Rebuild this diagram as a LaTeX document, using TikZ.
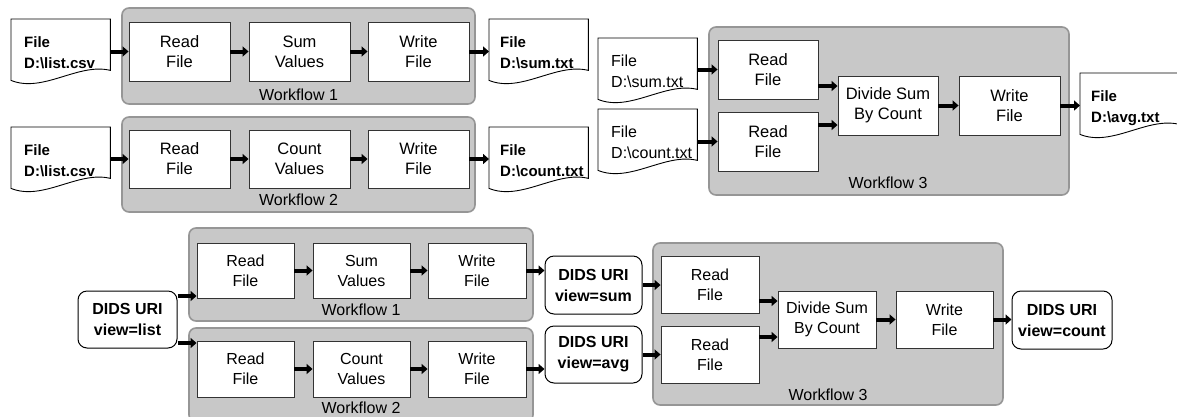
\documentclass[tikz,border=0pt]{standalone}
\usepackage{fontspec}
\setmainfont{Liberation Sans}
\usetikzlibrary{arrows.meta}
\definecolor{wfill}{RGB}{200,200,200}
\definecolor{wline}{RGB}{150,150,150}
\begin{document}
\begin{tikzpicture}[x=1pt,y=-1pt,
  wf/.style={draw=wline,fill=wfill,line width=1.6pt,rounded corners=7pt},
  wflabel/.style={inner sep=0pt,font=\fontsize{16}{19}\selectfont},
  proc/.style={draw=black!80,fill=white,line width=0.9pt,align=center,inner sep=0pt,font=\fontsize{16.5}{20}\selectfont},
  procb/.style={proc,font=\fontsize{16}{20}\selectfont},
  docbox/.style={inner sep=0pt,minimum width=99pt,minimum height=56pt,anchor=north west},
  doctext/.style={inner sep=0pt,anchor=north west,align=left,font=\fontsize{15}{21}\selectfont\bfseries},
  doctextr/.style={doctext,font=\fontsize{16}{21}\selectfont},
  docline/.style={draw=black,line width=0.9pt,fill=white},
  dids/.style={draw=black,line width=1pt,fill=white,rounded corners=9pt,align=center,inner sep=0pt,font=\fontsize{16}{21}\selectfont\bfseries},
  arr/.style={line width=4pt,-{Triangle[length=6pt,width=10pt]}}
]
\useasboundingbox (0,0) rectangle (1177,416);
\begin{scope}
\clip (0,0) rectangle (1177,416);
% ---------- top workflows 1 and 2 ----------
\draw[wf] (122,8) rectangle (475,104);
\node[wflabel] (wl1) at (298.5,95) {Workflow 1};
\draw[wf] (122,117) rectangle (475,212);
\node[wflabel] (wl2) at (298.5,200) {Workflow 2};

\node[proc,minimum width=101pt,minimum height=59pt] (r1) at (179.5,51.5) {Read\\File};
\node[proc,minimum width=101pt,minimum height=59pt] (s1) at (299.5,51.5) {Sum\\Values};
\node[proc,minimum width=101pt,minimum height=59pt] (w1) at (418.5,51.5) {Write\\File};
\node[proc,minimum width=101pt,minimum height=58pt] (r2) at (179.5,159) {Read\\File};
\node[proc,minimum width=101pt,minimum height=58pt] (c2) at (299.5,159) {Count\\Values};
\node[proc,minimum width=101pt,minimum height=58pt] (w2) at (418.5,159) {Write\\File};

% documents
\node[docbox] (d1) at (11,19) {};
\node[docbox] (d2) at (11,127) {};
\node[docbox] (o1) at (489,19) {};
\node[docbox] (o2) at (489,127) {};
\node[docbox] (i1) at (598,38) {};
\node[docbox] (i2) at (598,109) {};
\node[docbox] (o3) at (1080,73) {};
\foreach \d in {d1,d2,o1,o2,i1,i2,o3}{
  \draw[docline] (\d.north west) -- (\d.north east) -- ([yshift=5pt]\d.south east)
    .. controls +(-32pt,8pt) and +(32pt,-13pt) .. ([yshift=-5pt]\d.south west) -- cycle;
}
\node[doctext] (d1t) at ([xshift=13pt,yshift=-17pt]d1.north west) {File\\D:\textbackslash list.csv};
\node[doctext] (d2t) at ([xshift=13pt,yshift=-17pt]d2.north west) {File\\D:\textbackslash list.csv};
\node[doctext] (o1t) at ([xshift=11pt,yshift=-17pt]o1.north west) {File\\D:\textbackslash sum.txt};
\node[doctext] (o2t) at ([xshift=11pt,yshift=-17pt]o2.north west) {File\\D:\textbackslash count.txt};
\node[doctextr] (i1t) at ([xshift=13pt,yshift=-17pt]i1.north west) {File\\D:\textbackslash sum.txt};
\node[doctextr] (i2t) at ([xshift=13pt,yshift=-17pt]i2.north west) {File\\D:\textbackslash count.txt};
\node[doctext] (o3t) at ([xshift=11pt,yshift=-17pt]o3.north west) {File\\D:\textbackslash avg.txt};

\draw[arr] (d1.east |- r1.west) -- (r1.west);
\draw[arr] (r1.east) -- (s1.west);
\draw[arr] (s1.east) -- (w1.west);
\draw[arr] (w1.east) -- (w1.east -| o1.west);
\draw[arr] (d2.east |- r2.west) -- (r2.west);
\draw[arr] (r2.east) -- (c2.west);
\draw[arr] (c2.east) -- (w2.west);
\draw[arr] (w2.east) -- (w2.east -| o2.west);

% ---------- top workflow 3 ----------
\draw[wf] (709,27) rectangle (1069,195);
\node[wflabel] (wl3) at (888,183) {Workflow 3};
\node[proc,minimum width=100pt,minimum height=59pt] (r3a) at (768,69.5) {Read\\File};
\node[proc,minimum width=100pt,minimum height=59pt] (r3b) at (768,141.5) {Read\\File};
\node[proc,minimum width=100pt,minimum height=59pt] (dv) at (888,105.5) {Divide Sum\\By Count};
\node[proc,minimum width=101pt,minimum height=59pt] (w3) at (1009.5,105.5) {Write\\File};
\draw[arr] (i1.east |- r3a.west) -- (r3a.west);
\draw[arr] (i2.east |- r3b.west) -- (r3b.west);
\draw[arr] ([yshift=-16.5pt]r3a.east) -- ([yshift=-16.5pt]r3a.east -| dv.west);
\draw[arr] ([yshift=16.5pt]r3b.east) -- ([yshift=16.5pt]r3b.east -| dv.west);
\draw[arr] (dv.east) -- (w3.west);
\draw[arr] (w3.east) -- (w3.east -| o3.west);

% ---------- bottom ----------
\draw[wf] (189,228) rectangle (533,321);
\node[wflabel] (wb1l) at (361,310) {Workflow 1};
\draw[wf] (189,328) rectangle (533,422);
\node[wflabel] (wb2l) at (361,408) {Workflow 2};
\draw[wf] (653,243) rectangle (1003,405);
\node[wflabel] (wb3l) at (828,395) {Workflow 3};

\node[procb,minimum width=97pt,minimum height=55pt] (rb1) at (245.5,270.5) {Read\\File};
\node[procb,minimum width=97pt,minimum height=55pt] (sb1) at (361.5,270.5) {Sum\\Values};
\node[procb,minimum width=98pt,minimum height=55pt] (wb1) at (477,270.5) {Write\\File};
\node[procb,minimum width=97pt,minimum height=56pt] (rb2) at (245.5,369) {Read\\File};
\node[procb,minimum width=97pt,minimum height=56pt] (cb2) at (361.5,369) {Count\\Values};
\node[procb,minimum width=98pt,minimum height=56pt] (wb2) at (477,369) {Write\\File};

\node[dids,minimum width=99pt,minimum height=57pt] (L) at (127.5,319.5) {DIDS URI\\view=list};
\node[dids,minimum width=97pt,minimum height=58pt] (DS) at (593.5,285) {DIDS URI\\view=sum};
\node[dids,minimum width=97pt,minimum height=57pt] (DA) at (593.5,354.5) {DIDS URI\\view=avg};
\node[dids,minimum width=100pt,minimum height=58pt] (DC) at (1062,320) {DIDS URI\\view=count};

\node[procb,minimum width=98pt,minimum height=57pt] (rb3a) at (710,284.5) {Read\\File};
\node[procb,minimum width=98pt,minimum height=57pt] (rb3b) at (710,354.5) {Read\\File};
\node[procb,minimum width=98pt,minimum height=57pt] (dvb) at (827,319.5) {Divide Sum\\By Count};
\node[procb,minimum width=97pt,minimum height=57pt] (wb3) at (944.5,319.5) {Write\\File};

\draw[arr] ([yshift=23.5pt]L.east) -- ([yshift=23.5pt]L.east -| rb1.west);
\draw[arr] ([yshift=-23.5pt]L.east) -- ([yshift=-23.5pt]L.east -| rb2.west);
\draw[arr] (rb1.east) -- (sb1.west);
\draw[arr] (sb1.east) -- (wb1.west);
\draw[arr] (wb1.east) -- (wb1.east -| DS.west);
\draw[arr] (rb2.east) -- (cb2.west);
\draw[arr] (cb2.east) -- (wb2.west);
\draw[arr] (wb2.east) -- (wb2.east -| DA.west);
\draw[arr] (DS.east) -- (DS.east -| rb3a.west);
\draw[arr] (DA.east) -- (DA.east -| rb3b.west);
\draw[arr] ([yshift=-16.5pt]rb3a.east) -- ([yshift=-16.5pt]rb3a.east -| dvb.west);
\draw[arr] ([yshift=17.5pt]rb3b.east) -- ([yshift=17.5pt]rb3b.east -| dvb.west);
\draw[arr] (dvb.east) -- (wb3.west);
\draw[arr] (wb3.east) -- (wb3.east -| DC.west);
\end{scope}
\end{tikzpicture}
\end{document}
